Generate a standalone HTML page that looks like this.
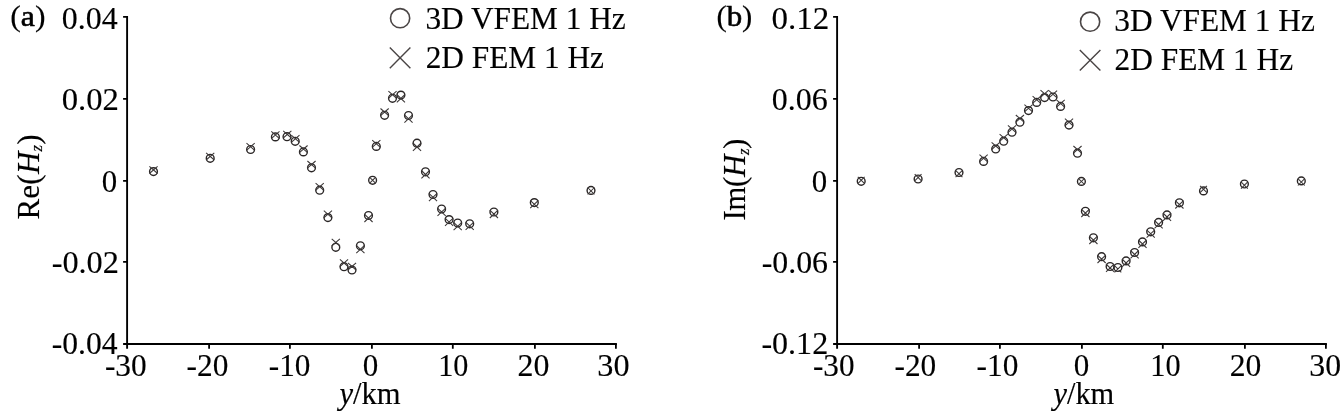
<!DOCTYPE html>
<html><head><meta charset="utf-8"><title>Hz response</title>
<style>
html,body{margin:0;padding:0;background:#fff;}
svg{display:block;}
text{font-family:"Liberation Serif","Times New Roman",serif;font-size:31px;fill:#000;stroke:#000;stroke-width:0.15px;}
</style></head><body>
<svg width="1344" height="413" viewBox="0 0 1344 413">
<rect width="1344" height="413" fill="#fff"/>
<path d="M127.1 15.9V348.7" fill="none" stroke="#000" stroke-width="1.9"/><path d="M123.1 343.9H616.9" fill="none" stroke="#000" stroke-width="2"/><path d="M123.1 16.8H127.1M123.1 98.9H127.1M123.1 180.9H127.1M123.1 261.85H127.1M209.1 343.9V348.7M289.9 343.9V348.7M371.9 343.9V348.7M452.8 343.9V348.7M534.9 343.9V348.7M615.9 343.9V348.7" fill="none" stroke="#000" stroke-width="1.8"/>
<path d="M837.1 15.9V348.7" fill="none" stroke="#000" stroke-width="1.9"/><path d="M833.1 343.9H1326.9" fill="none" stroke="#000" stroke-width="2"/><path d="M833.1 16.8H837.1M833.1 98.9H837.1M833.1 180.9H837.1M833.1 261.85H837.1M919.1 343.9V348.7M999.9 343.9V348.7M1081.9 343.9V348.7M1162.8 343.9V348.7M1244.9 343.9V348.7M1325.9 343.9V348.7" fill="none" stroke="#000" stroke-width="1.8"/>
<text x="104.92" y="376.1" textLength="41.75" lengthAdjust="spacingAndGlyphs">-30</text>
<text x="186.63" y="376.1" textLength="41.78" lengthAdjust="spacingAndGlyphs">-20</text>
<text x="268.84" y="376.1" textLength="41.63" lengthAdjust="spacingAndGlyphs">-10</text>
<text x="362.82" y="376.1" textLength="15.52" lengthAdjust="spacingAndGlyphs">0</text>
<text x="438.21" y="376.1" textLength="30.14" lengthAdjust="spacingAndGlyphs">10</text>
<text x="517.58" y="376.1" textLength="31.88" lengthAdjust="spacingAndGlyphs">20</text>
<text x="597.30" y="376.1" textLength="32.21" lengthAdjust="spacingAndGlyphs">30</text>
<text x="812.95" y="376.1" textLength="41.55" lengthAdjust="spacingAndGlyphs">-30</text>
<text x="894.53" y="376.1" textLength="41.78" lengthAdjust="spacingAndGlyphs">-20</text>
<text x="976.63" y="376.1" textLength="41.78" lengthAdjust="spacingAndGlyphs">-10</text>
<text x="1073.85" y="376.1" textLength="15.52" lengthAdjust="spacingAndGlyphs">0</text>
<text x="1150.27" y="376.1" textLength="30.28" lengthAdjust="spacingAndGlyphs">10</text>
<text x="1229.79" y="376.1" textLength="31.61" lengthAdjust="spacingAndGlyphs">20</text>
<text x="1309.28" y="376.1" textLength="31.75" lengthAdjust="spacingAndGlyphs">30</text>
<text x="61.74" y="28.5" textLength="55.86" lengthAdjust="spacingAndGlyphs">0.04</text>
<text x="61.76" y="110.3" textLength="57.21" lengthAdjust="spacingAndGlyphs">0.02</text>
<text x="101.70" y="191.8" textLength="15.42" lengthAdjust="spacingAndGlyphs">0</text>
<text x="51.65" y="272.5" textLength="67.29" lengthAdjust="spacingAndGlyphs">-0.02</text>
<text x="51.79" y="353.6" textLength="65.83" lengthAdjust="spacingAndGlyphs">-0.04</text>
<text x="771.57" y="28.5" textLength="57.67" lengthAdjust="spacingAndGlyphs">0.12</text>
<text x="771.68" y="110.3" textLength="55.96" lengthAdjust="spacingAndGlyphs">0.06</text>
<text x="811.70" y="191.8" textLength="15.42" lengthAdjust="spacingAndGlyphs">0</text>
<text x="761.67" y="272.5" textLength="66.33" lengthAdjust="spacingAndGlyphs">-0.06</text>
<text x="761.43" y="353.6" textLength="66.75" lengthAdjust="spacingAndGlyphs">-0.12</text>
<text x="10.26" y="25.8" style="font-size:30px" textLength="35.23" lengthAdjust="spacingAndGlyphs">(<tspan stroke-width="0.6">a</tspan>)</text>
<text x="716.40" y="25.6" style="font-size:30px" textLength="35.98" lengthAdjust="spacingAndGlyphs">(<tspan stroke-width="0.6">b</tspan>)</text>
<text x="339.44" y="403.7" textLength="61.21" lengthAdjust="spacingAndGlyphs"><tspan font-style="italic">y</tspan>/km</text>
<text x="1053.45" y="403.7" textLength="60.77" lengthAdjust="spacingAndGlyphs"><tspan font-style="italic">y</tspan>/km</text>
<text x="425.48" y="28.9" textLength="200.23" lengthAdjust="spacingAndGlyphs">3D VFEM 1 Hz</text>
<text x="425.69" y="68.1" textLength="178.26" lengthAdjust="spacingAndGlyphs">2D FEM 1 Hz</text>
<text x="1114.34" y="31.0" textLength="200.52" lengthAdjust="spacingAndGlyphs">3D VFEM 1 Hz</text>
<text x="1114.63" y="70.2" textLength="178.49" lengthAdjust="spacingAndGlyphs">2D FEM 1 Hz</text>
<text transform="translate(38.6,219.6) rotate(-90)" textLength="85.2" lengthAdjust="spacing">Re(<tspan font-style="italic">H</tspan><tspan font-style="italic" font-size="16.5" dy="3.5">z</tspan><tspan dy="-3.5">)</tspan></text>
<text transform="translate(745.2,220.6) rotate(-90)" textLength="82" lengthAdjust="spacing">Im(<tspan font-style="italic">H</tspan><tspan font-style="italic" font-size="16.5" dy="3.5">z</tspan><tspan dy="-3.5">)</tspan></text>
<g fill="none" stroke="#4a4545" stroke-width="1.6">
<circle cx="400.1" cy="18.2" r="9.6"/><path d="M389.8 47.6L410.4 68.2M410.4 47.6L389.8 68.2" stroke-width="1.4"/>
<circle cx="1090.1" cy="21.7" r="9.6"/><path d="M1079.8 50L1100.4 70.6M1100.4 50L1079.8 70.6" stroke-width="1.4"/>
</g>
<g fill="none" stroke="#2a2626" stroke-width="1.4"><circle cx="153.5" cy="171.6" r="3.9"/><circle cx="210.2" cy="158.3" r="3.9"/><circle cx="250.6" cy="149.5" r="3.9"/><circle cx="275.4" cy="136.9" r="3.9"/><circle cx="287.0" cy="136.7" r="3.9"/><circle cx="295.2" cy="141.3" r="3.9"/><circle cx="303.4" cy="151.9" r="3.9"/><circle cx="311.5" cy="167.8" r="3.9"/><circle cx="319.7" cy="190.2" r="3.9"/><circle cx="327.9" cy="217.6" r="3.9"/><circle cx="335.8" cy="247.3" r="3.9"/><circle cx="344.0" cy="266.7" r="3.9"/><circle cx="352.0" cy="270.0" r="3.9"/><circle cx="360.4" cy="245.8" r="3.9"/><circle cx="368.5" cy="215.5" r="3.9"/><circle cx="372.6" cy="180.3" r="3.9"/><circle cx="376.3" cy="146.4" r="3.9"/><circle cx="384.6" cy="115.3" r="3.9"/><circle cx="392.5" cy="98.3" r="3.9"/><circle cx="400.9" cy="95.1" r="3.9"/><circle cx="408.5" cy="115.5" r="3.9"/><circle cx="417.0" cy="143.2" r="3.9"/><circle cx="425.5" cy="171.8" r="3.9"/><circle cx="433.0" cy="194.5" r="3.9"/><circle cx="441.6" cy="209.0" r="3.9"/><circle cx="449.1" cy="219.6" r="3.9"/><circle cx="457.7" cy="223.0" r="3.9"/><circle cx="469.7" cy="223.8" r="3.9"/><circle cx="493.9" cy="212.0" r="3.9"/><circle cx="534.3" cy="202.6" r="3.9"/><circle cx="591.0" cy="190.4" r="3.9"/><path d="M149.4 166.3L157.6 173.5M157.6 166.3L149.4 173.5M206.1 152.8L214.3 160.0M214.3 152.8L206.1 160.0M246.5 143.1L254.7 150.3M254.7 143.1L246.5 150.3M271.3 131.4L279.5 138.6M279.5 131.4L271.3 138.6M283.2 130.8L291.4 138.0M291.4 130.8L283.2 138.0M291.3 135.2L299.5 142.4M299.5 135.2L291.3 142.4M299.4 145.5L307.6 152.7M307.6 145.5L299.4 152.7M307.4 161.0L315.6 168.2M315.6 161.0L307.4 168.2M315.6 183.1L323.8 190.3M323.8 183.1L315.6 190.3M323.8 210.7L332.0 217.9M332.0 210.7L323.8 217.9M331.7 238.8L339.9 246.0M339.9 238.8L331.7 246.0M339.9 259.4L348.1 266.6M348.1 259.4L339.9 266.6M347.9 262.8L356.1 270.0M356.1 262.8L347.9 270.0M356.3 245.4L364.5 253.2M364.5 245.4L356.3 253.2M364.4 214.2L372.6 222.0M372.6 214.2L364.4 222.0M369.5 177.2L375.7 183.4M375.7 177.2L369.5 183.4M372.2 140.2L380.4 147.4M380.4 140.2L372.2 147.4M380.5 108.5L388.7 115.7M388.7 108.5L380.5 115.7M388.4 91.1L396.6 98.3M396.6 91.1L388.4 98.3M396.8 94.5L405.0 102.3M405.0 94.5L396.8 102.3M404.4 114.9L412.6 122.7M412.6 114.9L404.4 122.7M412.9 143.0L421.1 150.8M421.1 143.0L412.9 150.8M421.4 170.5L429.6 178.3M429.6 170.5L421.4 178.3M428.9 193.3L437.1 201.1M437.1 193.3L428.9 201.1M437.5 208.1L445.7 215.9M445.7 208.1L437.5 215.9M445.0 218.1L453.2 225.9M453.2 218.1L445.0 225.9M453.6 222.4L461.8 230.2M461.8 222.4L453.6 230.2M465.6 222.1L473.8 229.9M473.8 222.1L465.6 229.9M489.8 210.2L498.0 218.0M498.0 210.2L489.8 218.0M530.2 200.4L538.4 208.2M538.4 200.4L530.2 208.2M587.6 187.5L594.4 194.3M594.4 187.5L587.6 194.3" stroke="#3c3838" stroke-width="1.05"/></g>
<g fill="none" stroke="#2a2626" stroke-width="1.4"><circle cx="861.2" cy="181.3" r="3.9"/><circle cx="918.1" cy="179.0" r="3.9"/><circle cx="959.0" cy="172.5" r="3.9"/><circle cx="983.6" cy="161.4" r="3.9"/><circle cx="995.7" cy="149.0" r="3.9"/><circle cx="1003.7" cy="141.2" r="3.9"/><circle cx="1012.0" cy="132.2" r="3.9"/><circle cx="1019.9" cy="122.2" r="3.9"/><circle cx="1028.5" cy="110.6" r="3.9"/><circle cx="1036.7" cy="102.4" r="3.9"/><circle cx="1044.6" cy="97.6" r="3.9"/><circle cx="1053.0" cy="97.0" r="3.9"/><circle cx="1060.6" cy="106.4" r="3.9"/><circle cx="1069.0" cy="125.1" r="3.9"/><circle cx="1077.5" cy="153.2" r="3.9"/><circle cx="1081.4" cy="181.4" r="3.9"/><circle cx="1085.4" cy="211.3" r="3.9"/><circle cx="1093.4" cy="237.8" r="3.9"/><circle cx="1101.6" cy="256.7" r="3.9"/><circle cx="1110.1" cy="266.5" r="3.9"/><circle cx="1117.9" cy="267.5" r="3.9"/><circle cx="1126.1" cy="260.9" r="3.9"/><circle cx="1134.6" cy="252.5" r="3.9"/><circle cx="1142.5" cy="241.9" r="3.9"/><circle cx="1150.7" cy="231.8" r="3.9"/><circle cx="1158.6" cy="222.4" r="3.9"/><circle cx="1167.0" cy="214.9" r="3.9"/><circle cx="1179.4" cy="202.8" r="3.9"/><circle cx="1203.5" cy="190.9" r="3.9"/><circle cx="1244.4" cy="184.0" r="3.9"/><circle cx="1301.3" cy="180.9" r="3.9"/><path d="M857.8 176.9L864.6 183.7M864.6 176.9L857.8 183.7M914.7 174.1L921.5 180.9M921.5 174.1L914.7 180.9M955.6 170.4L962.4 177.2M962.4 170.4L955.6 177.2M979.5 154.6L987.7 161.8M987.7 154.6L979.5 161.8M991.6 142.3L999.8 149.5M999.8 142.3L991.6 149.5M999.6 134.1L1007.8 141.3M1007.8 134.1L999.6 141.3M1007.9 125.4L1016.1 132.6M1016.1 125.4L1007.9 132.6M1015.8 115.0L1024.0 122.2M1024.0 115.0L1015.8 122.2M1024.4 104.7L1032.6 111.9M1032.6 104.7L1024.4 111.9M1032.6 96.1L1040.8 103.3M1040.8 96.1L1032.6 103.3M1040.5 90.2L1048.7 97.4M1048.7 90.2L1040.5 97.4M1048.9 90.6L1057.1 97.8M1057.1 90.6L1048.9 97.8M1056.5 99.9L1064.7 107.1M1064.7 99.9L1056.5 107.1M1064.9 118.6L1073.1 125.8M1073.1 118.6L1064.9 125.8M1073.4 146.0L1081.6 153.2M1081.6 146.0L1073.4 153.2M1078.3 178.3L1084.5 184.5M1084.5 178.3L1078.3 184.5M1081.3 209.2L1089.5 217.0M1089.5 209.2L1081.3 217.0M1089.3 236.2L1097.5 244.0M1097.5 236.2L1089.3 244.0M1097.5 255.2L1105.7 263.0M1105.7 255.2L1097.5 263.0M1106.0 264.0L1114.2 271.8M1114.2 264.0L1106.0 271.8M1114.5 265.6L1121.3 272.4M1121.3 265.6L1114.5 272.4M1122.0 259.0L1130.2 266.8M1130.2 259.0L1122.0 266.8M1130.5 250.5L1138.7 258.3M1138.7 250.5L1130.5 258.3M1138.4 240.0L1146.6 247.8M1146.6 240.0L1138.4 247.8M1146.6 229.9L1154.8 237.7M1154.8 229.9L1146.6 237.7M1154.5 220.5L1162.7 228.3M1162.7 220.5L1154.5 228.3M1162.9 213.0L1171.1 220.8M1171.1 213.0L1162.9 220.8M1175.3 200.7L1183.5 208.5M1183.5 200.7L1175.3 208.5M1200.1 185.9L1206.9 192.7M1206.9 185.9L1200.1 192.7M1241.0 181.9L1247.8 188.7M1247.8 181.9L1241.0 188.7M1297.9 178.7L1304.7 185.5M1304.7 178.7L1297.9 185.5" stroke="#3c3838" stroke-width="1.05"/></g>
</svg>
</body></html>
